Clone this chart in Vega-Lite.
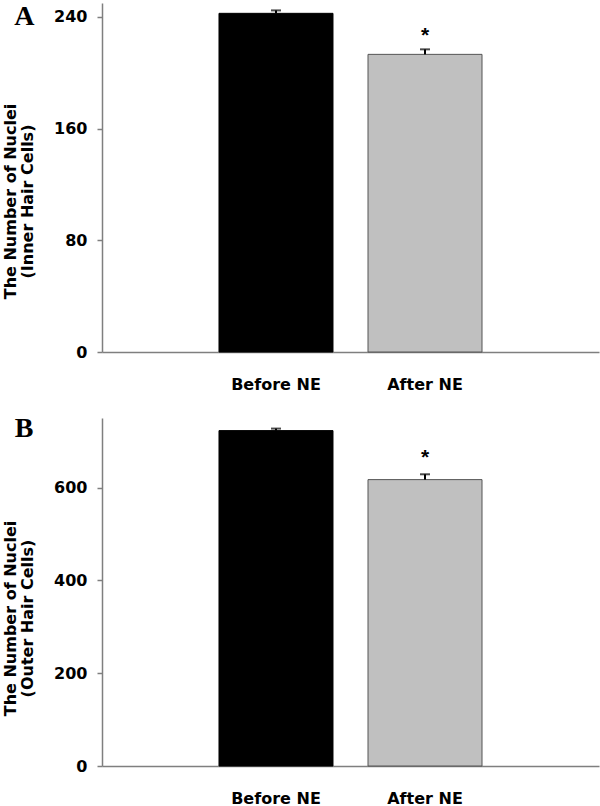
{
  "$schema": "https://vega.github.io/schema/vega-lite/v6.json",
  "padding": {"left": 2, "top": 2, "right": 2, "bottom": 0},
  "spacing": 66,
  "bounds": "flush",
  "background": "white",
  "config": {
    "view": {"stroke": null},
    "font": "DejaVu Sans",
    "axis": {
      "domainColor": "#7f7f7f",
      "domainWidth": 1.5,
      "tickColor": "#7f7f7f",
      "tickWidth": 1.5,
      "grid": false,
      "labelFont": "DejaVu Sans",
      "labelFontWeight": "bold",
      "labelColor": "black",
      "titleFont": "DejaVu Sans",
      "titleFontWeight": "bold",
      "titleColor": "black"
    }
  },
  "datasets": {
    "nuclei": [
      {"panel": "A", "group": "Before NE", "value": 242.6, "err": 2.1, "star": ""},
      {"panel": "A", "group": "After NE", "value": 213.2, "err": 3.6, "star": "*"},
      {"panel": "B", "group": "Before NE", "value": 722.8, "err": 4.4, "star": ""},
      {"panel": "B", "group": "After NE", "value": 617.2, "err": 11.5, "star": "*"}
    ]
  },
  "vconcat": [
    {
      "width": 497,
      "height": 349,
      "data": {"name": "nuclei"},
      "transform": [{"filter": "datum.panel === 'A'"}, {"calculate": "datum.value + datum.err", "as": "upper"}],
      "encoding": {
        "x": {"field": "group", "type": "nominal", "sort": ["Before NE", "After NE"],
          "scale": {"paddingInner": 0.235, "paddingOuter": 0.785, "align": 0.5},
          "axis": {"title": null, "ticks": false, "labelAngle": 0, "labelFontSize": 16, "labelPadding": 24}}
      },
      "layer": [
        {
          "mark": {"type": "bar", "strokeWidth": 1},
          "encoding": {
            "y": {"field": "value", "type": "quantitative", "scale": {"domain": [0, 250], "nice": false},
              "axis": {
                "values": [0, 80, 160, 240, 250],
                "labelExpr": "datum.value == 250 ? 'A' : datum.label",
                "tickSize": 5,
                "tickOpacity": {"condition": {"test": "datum.value == 250", "value": 0}, "value": 1},
                "labelFontSize": {"condition": {"test": "datum.value == 250", "value": 28}, "value": 16},
                "labelFont": {"condition": {"test": "datum.value == 250", "value": "Liberation Serif"}, "value": "DejaVu Sans"},
                "labelPadding": {"condition": {"test": "datum.value == 250", "value": 63}, "value": 10},
                "labelOffset": {"condition": {"test": "datum.value == 250", "value": 21}, "value": 0},
                "labelBaseline": {"condition": {"test": "datum.value == 250", "value": "alphabetic"}, "value": "middle"},
                "labelOverlap": false,
                "title": ["The Number of Nuclei", "(Inner Hair Cells)"], "titleFontSize": 16, "titleLineHeight": 17,
                "titleX": -84, "titleY": 198}},
            "fill": {"field": "group", "type": "nominal", "scale": {"domain": ["Before NE", "After NE"], "range": ["#000000", "#c0c0c0"]}, "legend": null},
            "stroke": {"field": "group", "type": "nominal", "scale": {"domain": ["Before NE", "After NE"], "range": ["#000000", "#555555"]}, "legend": null}
          }
        },
        {
          "mark": {"type": "rule", "color": "black", "strokeWidth": 2},
          "encoding": {"y": {"field": "value", "type": "quantitative"}, "y2": {"field": "upper"}}
        },
        {
          "mark": {"type": "tick", "color": "black", "thickness": 2, "size": 10, "orient": "horizontal"},
          "encoding": {"y": {"field": "upper", "type": "quantitative"}}
        },
        {
          "transform": [{"filter": "datum.star != ''"}],
          "mark": {"type": "text", "font": "Liberation Sans", "fontSize": 21, "fontWeight": "bold", "baseline": "alphabetic", "dy": -7, "color": "black"},
          "encoding": {"y": {"field": "upper", "type": "quantitative"}, "text": {"field": "star"}}
        }
      ]
    },
    {
      "width": 497,
      "height": 348,
      "data": {"name": "nuclei"},
      "transform": [{"filter": "datum.panel === 'B'"}, {"calculate": "datum.value + datum.err", "as": "upper"}],
      "encoding": {
        "x": {"field": "group", "type": "nominal", "sort": ["Before NE", "After NE"],
          "scale": {"paddingInner": 0.235, "paddingOuter": 0.785, "align": 0.5},
          "axis": {"title": null, "ticks": false, "labelAngle": 0, "labelFontSize": 16, "labelPadding": 24}}
      },
      "layer": [
        {
          "mark": {"type": "bar", "strokeWidth": 1},
          "encoding": {
            "y": {"field": "value", "type": "quantitative", "scale": {"domain": [0, 750], "nice": false},
              "axis": {
                "values": [0, 200, 400, 600, 750],
                "labelExpr": "datum.value == 750 ? 'B' : datum.label",
                "tickSize": 5,
                "tickOpacity": {"condition": {"test": "datum.value == 750", "value": 0}, "value": 1},
                "labelFontSize": {"condition": {"test": "datum.value == 750", "value": 28}, "value": 16},
                "labelFont": {"condition": {"test": "datum.value == 750", "value": "Liberation Serif"}, "value": "DejaVu Sans"},
                "labelPadding": {"condition": {"test": "datum.value == 750", "value": 64}, "value": 10},
                "labelOffset": {"condition": {"test": "datum.value == 750", "value": 18}, "value": 0},
                "labelBaseline": {"condition": {"test": "datum.value == 750", "value": "alphabetic"}, "value": "middle"},
                "labelOverlap": false,
                "title": ["The Number of Nuclei", "(Outer Hair Cells)"], "titleFontSize": 16, "titleLineHeight": 17,
                "titleX": -84, "titleY": 200}},
            "fill": {"field": "group", "type": "nominal", "scale": {"domain": ["Before NE", "After NE"], "range": ["#000000", "#c0c0c0"]}, "legend": null},
            "stroke": {"field": "group", "type": "nominal", "scale": {"domain": ["Before NE", "After NE"], "range": ["#000000", "#555555"]}, "legend": null}
          }
        },
        {
          "mark": {"type": "rule", "color": "black", "strokeWidth": 2},
          "encoding": {"y": {"field": "value", "type": "quantitative"}, "y2": {"field": "upper"}}
        },
        {
          "mark": {"type": "tick", "color": "black", "thickness": 2, "size": 10, "orient": "horizontal"},
          "encoding": {"y": {"field": "upper", "type": "quantitative"}}
        },
        {
          "transform": [{"filter": "datum.star != ''"}],
          "mark": {"type": "text", "font": "Liberation Sans", "fontSize": 21, "fontWeight": "bold", "baseline": "alphabetic", "dy": -10, "color": "black"},
          "encoding": {"y": {"field": "upper", "type": "quantitative"}, "text": {"field": "star"}}
        }
      ]
    }
  ]
}
